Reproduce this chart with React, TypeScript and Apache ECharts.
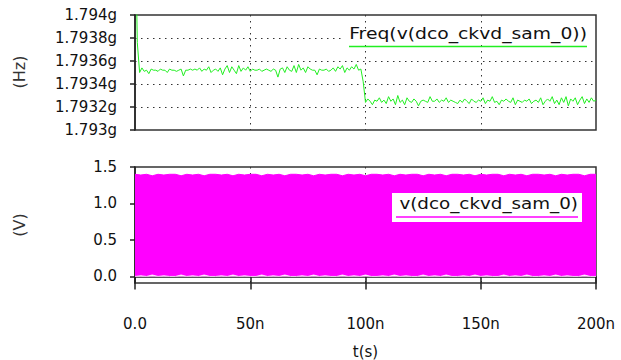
import React, { useEffect, useRef } from "react";
import * as echarts from "echarts";

// Top panel: Freq(v(dco_ckvd_sam_0)) in MHz, sampled every 1 ns (t = 0..200 ns)
const freqTop: number[] = [
  1795.0, 1793.76, 1793.50, 1793.54, 1793.51, 1793.52, 1793.49, 1793.53, 1793.52, 1793.52,
  1793.51, 1793.53, 1793.52, 1793.52, 1793.50, 1793.53, 1793.52, 1793.52, 1793.51, 1793.52,
  1793.53, 1793.47, 1793.52, 1793.52, 1793.53, 1793.52, 1793.53, 1793.52, 1793.54, 1793.51,
  1793.53, 1793.52, 1793.55, 1793.50, 1793.52, 1793.53, 1793.51, 1793.54, 1793.48, 1793.53,
  1793.56, 1793.50, 1793.55, 1793.52, 1793.49, 1793.56, 1793.51, 1793.54, 1793.52, 1793.55,
  1793.51, 1793.53, 1793.52, 1793.52, 1793.53, 1793.51, 1793.52, 1793.53, 1793.52, 1793.51,
  1793.53, 1793.52, 1793.46, 1793.53, 1793.54, 1793.50, 1793.55, 1793.52, 1793.51, 1793.56,
  1793.50, 1793.57, 1793.52, 1793.54, 1793.50, 1793.55, 1793.53, 1793.52, 1793.52, 1793.48,
  1793.53, 1793.52, 1793.52, 1793.53, 1793.51, 1793.52, 1793.54, 1793.51, 1793.55, 1793.53,
  1793.56, 1793.50, 1793.54, 1793.52, 1793.55, 1793.53, 1793.57, 1793.52, 1793.53, 1793.42,
  1793.24, 1793.27, 1793.25, 1793.22, 1793.26, 1793.25, 1793.28, 1793.24, 1793.26, 1793.23,
  1793.29, 1793.25, 1793.27, 1793.22, 1793.30, 1793.24, 1793.26, 1793.22, 1793.28, 1793.25,
  1793.24, 1793.27, 1793.25, 1793.21, 1793.25, 1793.26, 1793.25, 1793.24, 1793.29, 1793.25,
  1793.25, 1793.27, 1793.24, 1793.26, 1793.25, 1793.28, 1793.24, 1793.26, 1793.25, 1793.24,
  1793.23, 1793.26, 1793.24, 1793.27, 1793.25, 1793.23, 1793.27, 1793.25, 1793.24, 1793.26,
  1793.25, 1793.28, 1793.23, 1793.26, 1793.25, 1793.29, 1793.24, 1793.25, 1793.22, 1793.26,
  1793.25, 1793.27, 1793.25, 1793.24, 1793.28, 1793.22, 1793.26, 1793.25, 1793.24, 1793.26,
  1793.25, 1793.27, 1793.23, 1793.25, 1793.26, 1793.24, 1793.28, 1793.22, 1793.25, 1793.27,
  1793.25, 1793.29, 1793.23, 1793.26, 1793.22, 1793.28, 1793.24, 1793.29, 1793.21, 1793.27,
  1793.25, 1793.28, 1793.22, 1793.26, 1793.29, 1793.23, 1793.27, 1793.24, 1793.28, 1793.25,
  1793.26,
];
const topStepNs = 1;

// Bottom panel: v(dco_ckvd_sam_0) envelope (peak / trough voltages), every 2.5 ns
const vHigh: number[] = [
  1.40, 1.39, 1.40, 1.38, 1.40, 1.39, 1.40, 1.40, 1.38, 1.40,
  1.39, 1.40, 1.38, 1.40, 1.40, 1.39, 1.40, 1.38, 1.40, 1.39,
  1.40, 1.40, 1.38, 1.40, 1.39, 1.40, 1.38, 1.40, 1.40, 1.39,
  1.40, 1.38, 1.40, 1.39, 1.40, 1.40, 1.38, 1.40, 1.39, 1.40,
  1.38, 1.40, 1.40, 1.39, 1.40, 1.38, 1.40, 1.39, 1.40, 1.40,
  1.38, 1.40, 1.39, 1.40, 1.38, 1.40, 1.40, 1.39, 1.40, 1.38,
  1.40, 1.39, 1.40, 1.40, 1.38, 1.40, 1.39, 1.40, 1.38, 1.40,
  1.40, 1.39, 1.40, 1.38, 1.40, 1.39, 1.40, 1.40, 1.38, 1.40,
  1.40,
];
const vLow: number[] = [
  0.00, 0.01, 0.00, 0.02, 0.00, 0.01, 0.00, 0.00, 0.02, 0.00,
  0.01, 0.00, 0.02, 0.00, 0.00, 0.01, 0.00, 0.02, 0.00, 0.01,
  0.00, 0.00, 0.02, 0.00, 0.01, 0.00, 0.02, 0.00, 0.00, 0.01,
  0.00, 0.02, 0.00, 0.01, 0.00, 0.00, 0.02, 0.00, 0.01, 0.00,
  0.02, 0.00, 0.00, 0.01, 0.00, 0.02, 0.00, 0.01, 0.00, 0.00,
  0.02, 0.00, 0.01, 0.00, 0.02, 0.00, 0.00, 0.01, 0.00, 0.02,
  0.00, 0.01, 0.00, 0.00, 0.02, 0.00, 0.01, 0.00, 0.02, 0.00,
  0.00, 0.01, 0.00, 0.02, 0.00, 0.01, 0.00, 0.00, 0.02, 0.00,
  0.00,
];
const botStepNs = 2.5;

const timeTicks = [0, 50, 100, 150, 200];
const voltTicks = [0, 0.5, 1.0, 1.5];
const freqLegend = "Freq(v(dco_ckvd_sam_0))";
const voltLegend = "v(dco_ckvd_sam_0)";
const freqUnit = "(Hz)";
const voltUnit = "(V)";

const FONT = "DejaVu Sans";
const GREEN = "#22ee22";
const MAGENTA = "#ff00ff";

export default function App() {
  const ref = useRef<HTMLDivElement>(null);
  useEffect(() => {
    if (!ref.current) return;
    const chart = echarts.init(ref.current, null, { renderer: "svg" });
    const topData = freqTop.map((f, i) => [i * topStepNs, f]);
    const highData = vHigh.map((v, i) => [i * botStepNs, v]);
    const lowData = vLow.map((v, i) => [i * botStepNs, v]);
    const labelStyle = { color: "#111", fontFamily: FONT, fontSize: 15 };
    const dotted = { color: "#333", width: 1, type: [1.5, 4.5] as any };
    chart.setOption({
      animation: false,
      backgroundColor: "#fff",
      grid: [
        { left: 135, right: 25, top: 15, height: 115, show: true, borderColor: "#333", borderWidth: 1.5, backgroundColor: "transparent" },
        { left: 135, right: 25, top: 167, height: 117, show: true, borderColor: "#333", borderWidth: 1.5, backgroundColor: "transparent" },
      ],
      xAxis: [
        {
          type: "value", gridIndex: 0, min: 0, max: 200, interval: 50,
          axisLine: { show: false }, axisTick: { show: false }, axisLabel: { show: false },
          splitLine: { show: true, showMinLine: false, showMaxLine: false, lineStyle: dotted },
        },
        {
          type: "value", gridIndex: 1, min: 0, max: 200, interval: 50, offset: 6,
          axisLine: { show: true, lineStyle: { color: "#222", width: 1.5 } },
          axisTick: { show: true, length: 13, lineStyle: { color: "#222", width: 1.5 }, customValues: timeTicks },
          axisLabel: {
            ...labelStyle, margin: 27, customValues: timeTicks,
            formatter: (v: number) => (v === 0 ? "0.0" : `${v}n`),
          },
          splitLine: { show: true, showMinLine: false, showMaxLine: false, lineStyle: dotted },
          name: "t(s)", nameLocation: "middle", nameGap: 55,
          nameTextStyle: { ...labelStyle },
        },
      ],
      yAxis: [
        {
          type: "value", gridIndex: 0, min: 1793, max: 1794, interval: 0.2, offset: 7,
          axisLine: { show: true, lineStyle: { color: "#222", width: 1.5 } },
          axisTick: { show: true, length: 5, lineStyle: { color: "#222", width: 1.5 } },
          axisLabel: {
            ...labelStyle, margin: 11,
            formatter: (v: number) => `${Number((v / 1000).toFixed(5))}g`,
          },
          splitLine: { show: true, showMinLine: false, showMaxLine: false, lineStyle: dotted },
        },
        {
          type: "value", gridIndex: 1, min: -0.09, max: 1.5, offset: 7,
          axisLine: { show: true, lineStyle: { color: "#222", width: 1.5 } },
          axisTick: { show: true, length: 5, lineStyle: { color: "#222", width: 1.5 }, customValues: voltTicks },
          axisLabel: {
            ...labelStyle, margin: 11, customValues: voltTicks,
            formatter: (v: number) => v.toFixed(1),
          },
          splitLine: { show: false },
        },
      ],
      series: [
        {
          type: "line", xAxisIndex: 0, yAxisIndex: 0, data: topData,
          showSymbol: false, symbol: "none", clip: true,
          lineStyle: { color: GREEN, width: 1 },
        },
        {
          type: "line", xAxisIndex: 1, yAxisIndex: 1, data: highData, z: 2,
          showSymbol: false, symbol: "none", lineStyle: { color: MAGENTA, width: 1 },
          areaStyle: { color: MAGENTA, opacity: 1, origin: 0 },
        },
        {
          type: "line", xAxisIndex: 1, yAxisIndex: 1, data: lowData, z: 3,
          showSymbol: false, symbol: "none", lineStyle: { color: "#fff", width: 0.8 },
          areaStyle: { color: "#fff", opacity: 1, origin: 0 },
        },
      ],
      graphic: [
        {
          type: "text", x: 19, y: 72, rotation: Math.PI / 2, z: 101,
          style: { text: freqUnit, fill: "#333", font: `16px '${FONT}'`, align: "center", verticalAlign: "middle" },
        },
        {
          type: "text", x: 19, y: 225, rotation: Math.PI / 2, z: 101,
          style: { text: voltUnit, fill: "#333", font: `16px '${FONT}'`, align: "center", verticalAlign: "middle" },
        },
        { type: "rect", shape: { x: 343, y: 29, width: 250, height: 16 }, style: { fill: "#fff" }, z: 100 },
        {
          type: "text", x: 587, y: 34, z: 101, scaleX: 1.25,
          style: { text: freqLegend, fill: "#111", font: `15px '${FONT}'`, align: "right", verticalAlign: "middle" },
        },
        { type: "line", shape: { x1: 349, y1: 46.5, x2: 587, y2: 46.5 }, style: { stroke: GREEN, lineWidth: 1.5 }, z: 101 },
        { type: "rect", shape: { x: 392, y: 193, width: 190, height: 29 }, style: { fill: "#fff" }, z: 100 },
        {
          type: "text", x: 578, y: 204, z: 101, scaleX: 1.22,
          style: { text: voltLegend, fill: "#111", font: `15px '${FONT}'`, align: "right", verticalAlign: "middle" },
        },
        { type: "line", shape: { x1: 396, y1: 217, x2: 578, y2: 217 }, style: { stroke: MAGENTA, lineWidth: 1.5 }, z: 101 },
      ],
    });
    return () => chart.dispose();
  }, []);
  return (
    <div
      ref={ref}
      style={{ position: "absolute", left: 0, top: 0, width: 621, height: 360, background: "#fff" }}
    />
  );
}
